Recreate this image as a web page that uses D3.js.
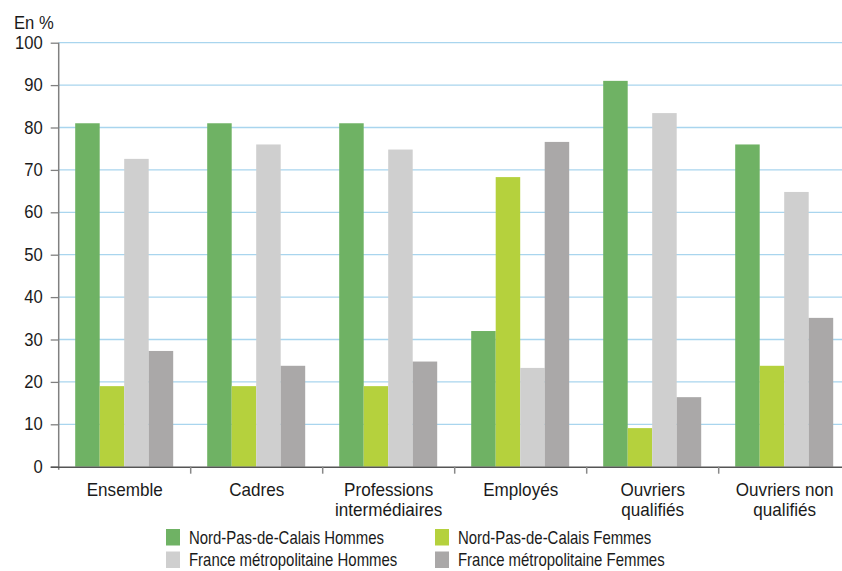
<!DOCTYPE html>
<html>
<head>
<meta charset="utf-8">
<script src="https://cdn.jsdelivr.net/npm/d3@7"></script>
<style>
  body { margin: 0; background: #fff; }
  text { font-family: "Liberation Sans", Arial, sans-serif; fill: #1a1a1a; }
</style>
</head>
<body>
<div id="chart"></div>
<script>
const categories = ["Ensemble", "Cadres", "Professions intermédiaires", "Employés", "Ouvriers qualifiés", "Ouvriers non qualifiés"];
const categoryLines = [["Ensemble"], ["Cadres"], ["Professions", "intermédiaires"], ["Employés"], ["Ouvriers", "qualifiés"], ["Ouvriers non", "qualifiés"]];
const seriesNames = ["Nord-Pas-de-Calais Hommes", "Nord-Pas-de-Calais Femmes", "France métropolitaine Hommes", "France métropolitaine Femmes"];
const npcHommes = [81, 81, 81, 32, 91, 76];
const npcFemmes = [19, 19, 19, 68.3, 9.1, 23.8];
const franceHommes = [72.6, 76, 74.8, 23.3, 83.4, 64.8];
const franceFemmes = [27.3, 23.8, 24.8, 76.6, 16.4, 35.1];
const yTicks = [0, 10, 20, 30, 40, 50, 60, 70, 80, 90, 100];
const colors = ["#6fb264", "#b5d13d", "#cfcfcf", "#aaa8a8"];

const series = [npcHommes, npcFemmes, franceHommes, franceFemmes];

const W = 842, H = 571;
const plotLeft = 58.7, plotTop = 42.7, plotBottom = 466.7;
const bandW = 132;

const svg = d3.select("#chart").append("svg")
  .attr("width", W)
  .attr("height", H);

const x = d3.scaleBand()
  .domain(categories)
  .range([plotLeft, plotLeft + bandW * categories.length])
  .paddingInner(0)
  .paddingOuter(0);

const x1 = d3.scaleBand()
  .domain(d3.range(series.length))
  .range([16.5, 16.5 + 98]);

const y = d3.scaleLinear().domain([0, 100]).range([plotBottom, plotTop]);

// grid lines
svg.append("g")
  .selectAll("line")
  .data(yTicks.filter(d => d > 0))
  .join("line")
  .attr("x1", plotLeft)
  .attr("x2", W)
  .attr("y1", d => y(d))
  .attr("y2", d => y(d))
  .attr("stroke", "#a9d5ee")
  .attr("stroke-width", 1.3);

// bars
const groups = svg.append("g")
  .selectAll("g")
  .data(categories)
  .join("g")
  .attr("transform", d => `translate(${x(d)},0)`);

groups.selectAll("rect")
  .data((d, i) => series.map((s, k) => ({ k, v: s[i] })))
  .join("rect")
  .attr("x", d => x1(d.k))
  .attr("width", x1.bandwidth())
  .attr("y", d => y(d.v))
  .attr("height", d => plotBottom - y(d.v))
  .attr("fill", d => colors[d.k]);

// y axis
const yAxis = svg.append("g")
  .attr("transform", `translate(${plotLeft},0)`)
  .call(d3.axisLeft(y).tickValues(yTicks).tickSize(8).tickPadding(8));
yAxis.select(".domain").attr("stroke", "#808080").attr("stroke-width", 1.5)
  .attr("d", `M0,${plotTop}V${plotBottom + 3}`);
yAxis.selectAll(".tick line").attr("stroke", "#808080").attr("stroke-width", 1.3);
yAxis.selectAll(".tick text")
  .attr("x", null)
  .attr("transform", "translate(-16,0) scale(0.95,1)")
  .style("font-size", "17.5px")
  .attr("fill", "#1a1a1a");

// x axis
svg.append("line")
  .attr("x1", plotLeft - 8)
  .attr("x2", W)
  .attr("y1", plotBottom + 0.5)
  .attr("y2", plotBottom + 0.5)
  .attr("stroke", "#555")
  .attr("stroke-width", 1.6);

svg.append("g")
  .selectAll("line")
  .data(categories.slice(1))
  .join("line")
  .attr("x1", d => x(d))
  .attr("x2", d => x(d))
  .attr("y1", plotBottom)
  .attr("y2", plotBottom + 7)
  .attr("stroke", "#888")
  .attr("stroke-width", 1.5);

// category labels (slightly condensed, like the original face)
const labels = svg.append("g")
  .selectAll("text")
  .data(categories)
  .join("text")
  .attr("transform", d => `translate(${x(d) + bandW / 2},496) scale(0.95,1)`)
  .attr("text-anchor", "middle")
  .style("font-size", "18px");

labels.selectAll("tspan")
  .data((d, i) => categoryLines[i])
  .join("tspan")
  .attr("x", 0)
  .attr("dy", (d, i) => i === 0 ? 0 : 20.5)
  .text(d => d);

// unit label
svg.append("text")
  .attr("transform", "translate(14,29) scale(0.95,1)")
  .style("font-size", "17.5px")
  .text("En %");

// legend
const legendPos = [[166, 529], [435, 529], [166, 551.5], [435, 551.5]];
const legend = svg.append("g")
  .selectAll("g")
  .data(seriesNames)
  .join("g")
  .attr("transform", (d, i) => `translate(${legendPos[i][0]},${legendPos[i][1]})`);

legend.append("rect")
  .attr("width", 14)
  .attr("height", 16.5)
  .attr("fill", (d, i) => colors[i]);

legend.append("text")
  .attr("transform", "translate(23,14.5) scale(0.83,1)")
  .style("font-size", "18px")
  .text(d => d);
</script>
</body>
</html>
